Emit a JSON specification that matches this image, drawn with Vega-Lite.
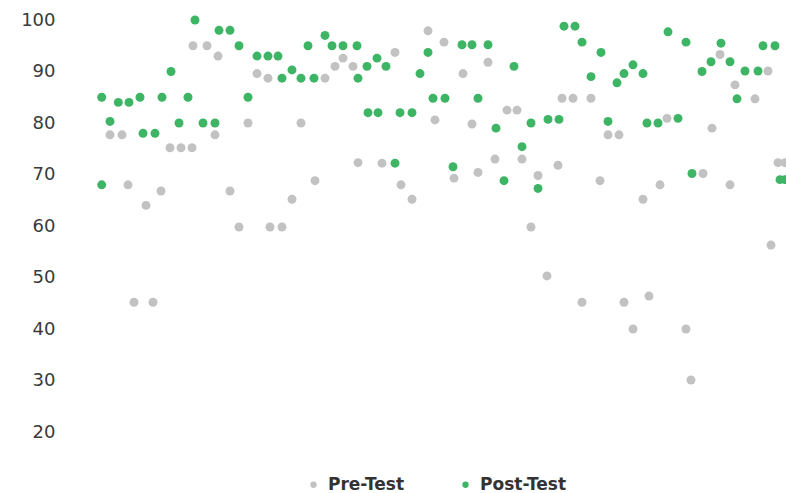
{
  "$schema": "https://vega.github.io/schema/vega-lite/v6.json",
  "width": 691,
  "height": 412,
  "autosize": {"type": "none"},
  "padding": {"left": 95, "top": 20, "right": 0, "bottom": 61},
  "background": "white",
  "config": {"view": {"stroke": null}, "font": "DejaVu Sans"},
  "data": {"values": [
    {"x":1.5,"score":77.7,"test":"Pre-Test"},{"x":2.7,"score":77.7,"test":"Pre-Test"},{"x":3.3,"score":68,"test":"Pre-Test"},{"x":3.9,"score":45.2,"test":"Pre-Test"},{"x":5.1,"score":64,"test":"Pre-Test"},
    {"x":5.8,"score":45.2,"test":"Pre-Test"},{"x":6.6,"score":66.8,"test":"Pre-Test"},{"x":7.5,"score":75.2,"test":"Pre-Test"},{"x":8.6,"score":75.2,"test":"Pre-Test"},{"x":9.7,"score":75.2,"test":"Pre-Test"},
    {"x":9.8,"score":95,"test":"Pre-Test"},{"x":11.2,"score":95,"test":"Pre-Test"},{"x":12.0,"score":77.7,"test":"Pre-Test"},{"x":12.3,"score":93,"test":"Pre-Test"},{"x":13.5,"score":66.8,"test":"Pre-Test"},
    {"x":14.4,"score":59.8,"test":"Pre-Test"},{"x":15.3,"score":80,"test":"Pre-Test"},{"x":16.2,"score":89.6,"test":"Pre-Test"},{"x":17.3,"score":88.7,"test":"Pre-Test"},{"x":17.5,"score":59.8,"test":"Pre-Test"},
    {"x":18.7,"score":59.8,"test":"Pre-Test"},{"x":19.7,"score":65.2,"test":"Pre-Test"},{"x":20.6,"score":80,"test":"Pre-Test"},{"x":22.0,"score":68.8,"test":"Pre-Test"},{"x":23.0,"score":88.7,"test":"Pre-Test"},
    {"x":24.0,"score":91,"test":"Pre-Test"},{"x":24.8,"score":92.6,"test":"Pre-Test"},{"x":25.8,"score":91,"test":"Pre-Test"},{"x":26.3,"score":72.3,"test":"Pre-Test"},{"x":28.7,"score":72.2,"test":"Pre-Test"},
    {"x":30.0,"score":93.7,"test":"Pre-Test"},{"x":30.6,"score":68,"test":"Pre-Test"},{"x":31.7,"score":65.2,"test":"Pre-Test"},{"x":33.3,"score":97.9,"test":"Pre-Test"},{"x":34.0,"score":80.6,"test":"Pre-Test"},
    {"x":34.9,"score":95.7,"test":"Pre-Test"},{"x":35.9,"score":69.3,"test":"Pre-Test"},{"x":36.8,"score":89.6,"test":"Pre-Test"},{"x":37.7,"score":79.8,"test":"Pre-Test"},{"x":38.3,"score":70.4,"test":"Pre-Test"},
    {"x":39.3,"score":91.8,"test":"Pre-Test"},{"x":40.0,"score":73,"test":"Pre-Test"},{"x":41.2,"score":82.5,"test":"Pre-Test"},{"x":42.2,"score":82.5,"test":"Pre-Test"},{"x":42.7,"score":73,"test":"Pre-Test"},
    {"x":43.6,"score":59.8,"test":"Pre-Test"},{"x":44.3,"score":69.8,"test":"Pre-Test"},{"x":45.2,"score":50.3,"test":"Pre-Test"},{"x":46.3,"score":71.8,"test":"Pre-Test"},{"x":46.7,"score":84.8,"test":"Pre-Test"},
    {"x":47.8,"score":84.8,"test":"Pre-Test"},{"x":48.7,"score":45.2,"test":"Pre-Test"},{"x":49.6,"score":84.8,"test":"Pre-Test"},{"x":50.5,"score":68.8,"test":"Pre-Test"},{"x":51.3,"score":77.7,"test":"Pre-Test"},
    {"x":52.4,"score":77.7,"test":"Pre-Test"},{"x":52.9,"score":45.2,"test":"Pre-Test"},{"x":53.8,"score":40,"test":"Pre-Test"},{"x":54.8,"score":65.2,"test":"Pre-Test"},{"x":55.4,"score":46.4,"test":"Pre-Test"},
    {"x":56.5,"score":68,"test":"Pre-Test"},{"x":57.2,"score":80.9,"test":"Pre-Test"},{"x":59.1,"score":40,"test":"Pre-Test"},{"x":59.6,"score":30.1,"test":"Pre-Test"},{"x":60.8,"score":70.2,"test":"Pre-Test"},
    {"x":61.7,"score":79,"test":"Pre-Test"},{"x":62.5,"score":93.3,"test":"Pre-Test"},{"x":63.5,"score":68,"test":"Pre-Test"},{"x":64.0,"score":87.4,"test":"Pre-Test"},{"x":66.0,"score":84.7,"test":"Pre-Test"},
    {"x":67.3,"score":90.1,"test":"Pre-Test"},{"x":67.6,"score":56.3,"test":"Pre-Test"},{"x":68.3,"score":72.3,"test":"Pre-Test"},{"x":69.0,"score":72.3,"test":"Pre-Test"},
    {"x":0.67,"score":85,"test":"Post-Test"},{"x":0.67,"score":68,"test":"Post-Test"},{"x":1.5,"score":80.3,"test":"Post-Test"},{"x":2.33,"score":84,"test":"Post-Test"},{"x":3.4,"score":84,"test":"Post-Test"},
    {"x":4.5,"score":85,"test":"Post-Test"},{"x":4.8,"score":78,"test":"Post-Test"},{"x":6.0,"score":78,"test":"Post-Test"},{"x":6.7,"score":85,"test":"Post-Test"},{"x":7.6,"score":90,"test":"Post-Test"},
    {"x":8.4,"score":80,"test":"Post-Test"},{"x":9.3,"score":85,"test":"Post-Test"},{"x":10.0,"score":100,"test":"Post-Test"},{"x":10.8,"score":80,"test":"Post-Test"},{"x":12.0,"score":80,"test":"Post-Test"},
    {"x":12.4,"score":98,"test":"Post-Test"},{"x":13.5,"score":98,"test":"Post-Test"},{"x":14.4,"score":95,"test":"Post-Test"},{"x":15.3,"score":85,"test":"Post-Test"},{"x":16.2,"score":93,"test":"Post-Test"},
    {"x":17.3,"score":93,"test":"Post-Test"},{"x":18.3,"score":93,"test":"Post-Test"},{"x":18.7,"score":88.7,"test":"Post-Test"},{"x":19.7,"score":90.3,"test":"Post-Test"},{"x":20.6,"score":88.7,"test":"Post-Test"},
    {"x":21.3,"score":95,"test":"Post-Test"},{"x":21.9,"score":88.7,"test":"Post-Test"},{"x":23.0,"score":97,"test":"Post-Test"},{"x":23.7,"score":95,"test":"Post-Test"},{"x":24.8,"score":95,"test":"Post-Test"},
    {"x":26.2,"score":95,"test":"Post-Test"},{"x":26.3,"score":88.7,"test":"Post-Test"},{"x":27.2,"score":91,"test":"Post-Test"},{"x":27.3,"score":82,"test":"Post-Test"},{"x":28.2,"score":92.6,"test":"Post-Test"},
    {"x":28.3,"score":82,"test":"Post-Test"},{"x":29.1,"score":91,"test":"Post-Test"},{"x":30.0,"score":72.2,"test":"Post-Test"},{"x":30.5,"score":82,"test":"Post-Test"},{"x":31.7,"score":82,"test":"Post-Test"},
    {"x":32.5,"score":89.6,"test":"Post-Test"},{"x":33.3,"score":93.7,"test":"Post-Test"},{"x":33.8,"score":84.8,"test":"Post-Test"},{"x":35.0,"score":84.8,"test":"Post-Test"},{"x":35.8,"score":71.5,"test":"Post-Test"},
    {"x":36.7,"score":95.2,"test":"Post-Test"},{"x":37.7,"score":95.2,"test":"Post-Test"},{"x":38.3,"score":84.8,"test":"Post-Test"},{"x":39.3,"score":95.2,"test":"Post-Test"},{"x":40.1,"score":79,"test":"Post-Test"},
    {"x":40.9,"score":68.8,"test":"Post-Test"},{"x":41.9,"score":91,"test":"Post-Test"},{"x":42.7,"score":75.4,"test":"Post-Test"},{"x":43.6,"score":80,"test":"Post-Test"},{"x":44.3,"score":67.3,"test":"Post-Test"},
    {"x":45.3,"score":80.7,"test":"Post-Test"},{"x":46.4,"score":80.7,"test":"Post-Test"},{"x":46.9,"score":98.8,"test":"Post-Test"},{"x":48.0,"score":98.8,"test":"Post-Test"},{"x":48.7,"score":95.7,"test":"Post-Test"},
    {"x":49.6,"score":89,"test":"Post-Test"},{"x":50.6,"score":93.7,"test":"Post-Test"},{"x":51.3,"score":80.3,"test":"Post-Test"},{"x":52.2,"score":87.8,"test":"Post-Test"},{"x":52.9,"score":89.6,"test":"Post-Test"},
    {"x":53.8,"score":91.3,"test":"Post-Test"},{"x":54.8,"score":89.6,"test":"Post-Test"},{"x":55.2,"score":80,"test":"Post-Test"},{"x":56.3,"score":80,"test":"Post-Test"},{"x":57.3,"score":97.7,"test":"Post-Test"},
    {"x":58.3,"score":80.9,"test":"Post-Test"},{"x":59.1,"score":95.7,"test":"Post-Test"},{"x":59.7,"score":70.2,"test":"Post-Test"},{"x":60.7,"score":90,"test":"Post-Test"},{"x":61.6,"score":91.9,"test":"Post-Test"},
    {"x":62.6,"score":95.5,"test":"Post-Test"},{"x":63.5,"score":91.9,"test":"Post-Test"},{"x":64.2,"score":84.7,"test":"Post-Test"},{"x":65.0,"score":90.1,"test":"Post-Test"},{"x":66.3,"score":90.1,"test":"Post-Test"},
    {"x":66.8,"score":95,"test":"Post-Test"},{"x":68.0,"score":95,"test":"Post-Test"},{"x":68.5,"score":69,"test":"Post-Test"},{"x":69.0,"score":69,"test":"Post-Test"}
  ]},
  "mark": {"type": "circle", "size": 80, "opacity": 1},
  "encoding": {
    "x": {"field": "x", "type": "quantitative", "scale": {"domain": [0, 69.1], "nice": false}, "axis": null},
    "y": {
      "field": "score", "type": "quantitative",
      "scale": {"domain": [20, 100], "nice": false},
      "axis": {"values": [20,30,40,50,60,70,80,90,100], "domain": false, "ticks": false, "tickSize": 0, "grid": false, "labelFontSize": 18, "labelColor": "#3a3a3a", "labelPadding": 40, "title": null}
    },
    "color": {
      "field": "test", "type": "nominal",
      "scale": {"domain": ["Pre-Test", "Post-Test"], "range": ["#c2c2c2", "#3db565"]},
      "legend": {"orient": "none", "legendX": 210, "legendY": 456, "title": null, "direction": "horizontal", "symbolSize": 40, "symbolType": "circle", "labelFont": "DejaVu Sans", "labelFontSize": 17, "labelFontWeight": "bold", "labelColor": "#333333", "columnPadding": 52, "labelOffset": 6}
    }
  }
}
